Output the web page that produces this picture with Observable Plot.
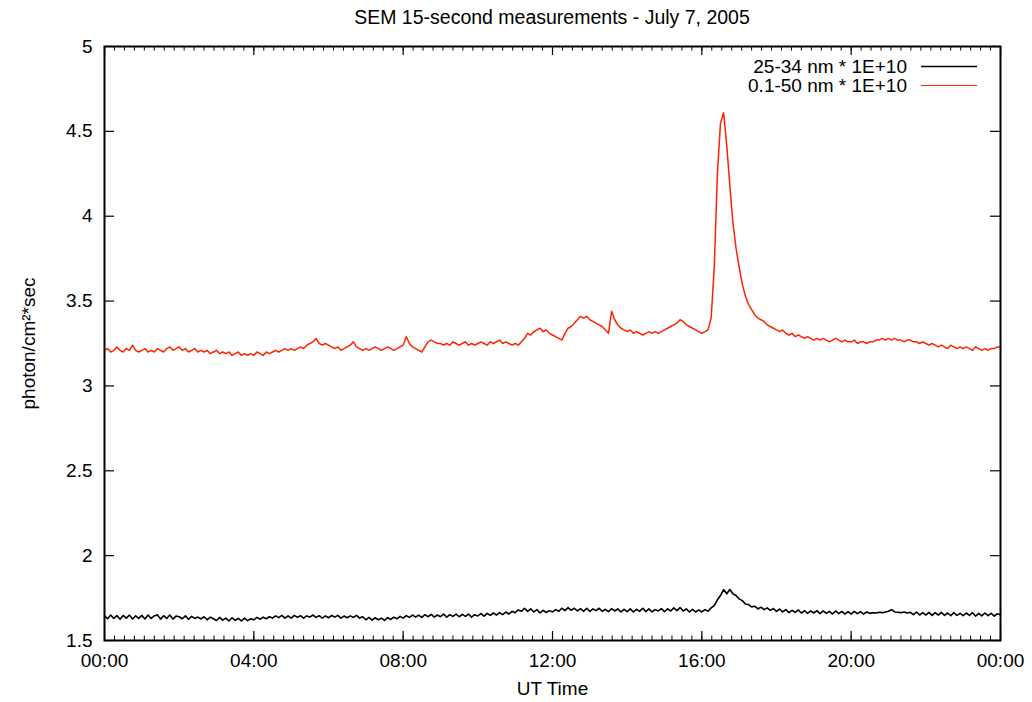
<!DOCTYPE html>
<html><head><meta charset="utf-8">
<script src="https://cdn.jsdelivr.net/npm/d3@7"></script>
<script src="https://cdn.jsdelivr.net/npm/@observablehq/plot@0.6"></script>
<style>
body{margin:0;background:#fff;font-family:"Liberation Sans",Arial,sans-serif;}
#title{height:30px;width:896px;padding-left:104px;text-align:center;font-size:19.5px;line-height:34px;color:#000;}
#chart svg{display:block;}
</style></head><body>
<div id="title"></div>
<div id="chart"></div>
<script>
// ---- data (one value every 5 minutes, 00:00 .. 24:00 UT) ----
const chartTitle = "SEM 15-second measurements - July 7, 2005";
const xLabel = "UT Time";
const yLabel = "photon/cm²*sec";
const dayStartUTC = Date.UTC(2005, 6, 7);
const sampleStepMinutes = 5;
const seriesNames = ["25-34 nm * 1E+10", "0.1-50 nm * 1E+10"];
const seriesColors = ["#000000", "#ff2200"];

const euv2534 = [
1.645,1.628,1.65,1.63,1.647,1.625,1.648,1.632,1.65,1.627,1.645,1.63,
1.648,1.627,1.65,1.63,1.645,1.652,1.626,1.646,1.63,1.65,1.626,1.644,
1.64,1.628,1.645,1.625,1.642,1.63,1.638,1.627,1.64,1.622,1.638,1.628,
1.618,1.636,1.62,1.632,1.615,1.634,1.618,1.63,1.615,1.632,1.617,1.628,
1.622,1.636,1.625,1.638,1.628,1.64,1.632,1.645,1.635,1.648,1.632,1.645,
1.632,1.648,1.636,1.646,1.632,1.645,1.638,1.65,1.636,1.646,1.632,1.645,
1.634,1.647,1.638,1.648,1.632,1.644,1.634,1.645,1.636,1.648,1.632,1.64,
1.622,1.636,1.62,1.634,1.622,1.632,1.618,1.635,1.624,1.638,1.628,1.642,
1.632,1.646,1.636,1.65,1.638,1.65,1.636,1.652,1.64,1.654,1.638,1.65,
1.64,1.655,1.638,1.652,1.642,1.656,1.64,1.654,1.642,1.656,1.638,1.652,
1.645,1.658,1.644,1.66,1.648,1.662,1.65,1.664,1.652,1.668,1.656,1.672,
1.664,1.68,1.672,1.69,1.672,1.686,1.668,1.682,1.662,1.678,1.665,1.676,
1.668,1.682,1.672,1.69,1.676,1.694,1.678,1.69,1.674,1.688,1.672,1.69,
1.672,1.686,1.676,1.69,1.672,1.684,1.67,1.688,1.674,1.686,1.668,1.684,
1.67,1.686,1.668,1.684,1.672,1.69,1.67,1.686,1.668,1.682,1.674,1.688,
1.67,1.686,1.674,1.692,1.676,1.694,1.674,1.686,1.668,1.684,1.668,1.68,
1.668,1.682,1.672,1.692,1.705,1.74,1.765,1.80,1.775,1.80,1.775,1.765,
1.745,1.735,1.715,1.712,1.698,1.702,1.686,1.696,1.682,1.692,1.678,1.688,
1.672,1.685,1.668,1.682,1.664,1.678,1.666,1.68,1.662,1.676,1.66,1.674,
1.662,1.676,1.658,1.674,1.66,1.672,1.656,1.674,1.658,1.672,1.656,1.67,
1.656,1.672,1.658,1.67,1.656,1.668,1.66,1.664,1.662,1.666,1.664,1.668,
1.672,1.682,1.668,1.666,1.664,1.668,1.662,1.666,1.652,1.668,1.65,1.664,
1.65,1.666,1.648,1.664,1.65,1.666,1.648,1.662,1.646,1.664,1.648,1.66,
1.646,1.662,1.648,1.664,1.644,1.66,1.645,1.662,1.646,1.66,1.644,1.658,
1.652];

const euv0150 = [
3.21,3.22,3.20,3.21,3.23,3.21,3.20,3.22,3.21,3.24,3.21,3.20,
3.21,3.22,3.20,3.21,3.20,3.22,3.21,3.20,3.22,3.23,3.21,3.22,
3.23,3.21,3.22,3.20,3.21,3.22,3.20,3.21,3.20,3.21,3.19,3.20,
3.21,3.19,3.20,3.19,3.20,3.18,3.19,3.20,3.18,3.19,3.18,3.19,
3.18,3.20,3.19,3.18,3.20,3.19,3.20,3.21,3.20,3.21,3.22,3.21,
3.22,3.21,3.22,3.23,3.22,3.24,3.25,3.26,3.28,3.25,3.24,3.25,
3.24,3.23,3.22,3.23,3.21,3.22,3.23,3.24,3.26,3.23,3.22,3.21,
3.22,3.21,3.22,3.23,3.22,3.21,3.22,3.23,3.22,3.21,3.22,3.23,
3.24,3.29,3.25,3.23,3.22,3.21,3.20,3.23,3.26,3.27,3.26,3.25,
3.25,3.24,3.25,3.24,3.26,3.25,3.24,3.25,3.26,3.24,3.25,3.24,
3.25,3.26,3.25,3.24,3.26,3.25,3.26,3.27,3.25,3.26,3.25,3.24,
3.25,3.24,3.26,3.28,3.31,3.30,3.32,3.33,3.34,3.32,3.33,3.31,
3.30,3.29,3.28,3.27,3.31,3.34,3.35,3.37,3.39,3.41,3.40,3.41,
3.39,3.38,3.37,3.36,3.35,3.33,3.31,3.44,3.39,3.36,3.34,3.33,
3.32,3.33,3.31,3.32,3.31,3.30,3.31,3.32,3.31,3.32,3.31,3.32,
3.33,3.34,3.35,3.36,3.37,3.39,3.38,3.36,3.35,3.34,3.33,3.32,
3.31,3.32,3.33,3.40,3.70,4.25,4.55,4.61,4.42,4.18,3.96,3.81,
3.70,3.60,3.53,3.48,3.45,3.42,3.40,3.39,3.38,3.36,3.35,3.34,
3.33,3.32,3.33,3.31,3.30,3.31,3.29,3.30,3.29,3.28,3.29,3.28,
3.27,3.28,3.27,3.28,3.27,3.26,3.27,3.28,3.27,3.26,3.27,3.26,
3.26,3.27,3.25,3.26,3.26,3.25,3.26,3.26,3.27,3.27,3.28,3.27,
3.28,3.27,3.28,3.27,3.27,3.26,3.27,3.27,3.26,3.26,3.25,3.26,
3.25,3.24,3.25,3.24,3.23,3.24,3.23,3.22,3.24,3.23,3.22,3.23,
3.22,3.23,3.22,3.21,3.23,3.22,3.21,3.22,3.21,3.22,3.22,3.23,
3.23];

const yTickValues = [1.5, 2, 2.5, 3, 3.5, 4, 4.5, 5];
const xMajorTickHours = [0, 4, 8, 12, 16, 20, 24];
const xMinorTickStepMinutes = 16;

document.getElementById("title").textContent = chartTitle;

// ---- build tables ----
const MIN = 60000;
const toDate = (minutes) => new Date(dayStartUTC + minutes * MIN);
const rows = [];
[euv2534, euv0150].forEach((arr, s) => {
  arr.forEach((v, i) => rows.push({t: toDate(i * sampleStepMinutes), v, s: seriesNames[s]}));
});
const majorTicks = xMajorTickHours.map(h => toDate(h * 60));
const minorTicks = d3.range(0, 24 * 60 + 1, xMinorTickStepMinutes).map(toDate);

const W = 1032, H = 672;
const mL = 104, mR = 32, mT = 16, mB = 62;
const innerW = W - mL - mR, innerH = H - mT - mB;

function legendMark(index, scales, values, dims) {
  const g = d3.create("svg:g").attr("font-size", "19px");
  const right = dims.width - dims.marginRight;
  seriesNames.forEach((name, i) => {
    const y = dims.marginTop + 20.5 + i * 19;
    g.append("text").attr("x", right - 93).attr("y", y).attr("dy", "0.35em")
      .attr("text-anchor", "end").attr("fill", "#000").text(name);
    g.append("line").attr("x1", right - 79).attr("x2", right - 23).attr("y1", y).attr("y2", y)
      .attr("stroke", seriesColors[i]).attr("stroke-width", i === 0 ? 1.3 : 1);
  });
  return g.node();
}

const chart = Plot.plot({
  width: W, height: H,
  marginLeft: mL, marginRight: mR, marginTop: mT, marginBottom: mB,
  style: {fontFamily: "'Liberation Sans', Arial, sans-serif", fontSize: "19px", color: "#000", background: "#fff"},
  x: {type: "utc", domain: [toDate(0), toDate(24 * 60)]},
  y: {domain: [1.5, 5]},
  color: {domain: seriesNames, range: seriesColors},
  marks: [
    Plot.axisX({ticks: majorTicks, tickSize: 0, tickPadding: 13, tickFormat: d3.utcFormat("%H:%M"), label: null}),
    Plot.axisY({ticks: yTickValues, tickSize: 0, tickPadding: 12, tickFormat: d => String(d), label: null}),
    Plot.line(rows.filter(d => d.s === seriesNames[1]), {x: "t", y: "v", stroke: seriesColors[1], strokeWidth: 1.5}),
    Plot.line(rows.filter(d => d.s === seriesNames[0]), {x: "t", y: "v", stroke: seriesColors[0], strokeWidth: 1.6}),
    // inward ticks: bottom & top
    Plot.tickX(minorTicks, {x: d => d, insetTop: innerH - 4.5, stroke: "#000", strokeWidth: 1}),
    Plot.tickX(minorTicks, {x: d => d, insetBottom: innerH - 4.5, stroke: "#000", strokeWidth: 1}),
    Plot.tickX(majorTicks, {x: d => d, insetTop: innerH - 9, stroke: "#000", strokeWidth: 1.2}),
    Plot.tickX(majorTicks, {x: d => d, insetBottom: innerH - 9, stroke: "#000", strokeWidth: 1.2}),
    // inward ticks: left & right
    Plot.tickY(yTickValues, {y: d => d, insetRight: innerW - 10, stroke: "#000", strokeWidth: 1.2}),
    Plot.tickY(yTickValues, {y: d => d, insetLeft: innerW - 10, stroke: "#000", strokeWidth: 1.2}),
    Plot.frame({stroke: "#000", strokeWidth: 2}),
    Plot.text([xLabel], {text: d => d, frameAnchor: "bottom", dy: 54, fill: "#000"}),
    Plot.text([yLabel], {text: d => d, frameAnchor: "left", textAnchor: "middle", rotate: -90, dx: -76, fill: "#000"}),
    legendMark
  ]
});
document.getElementById("chart").appendChild(chart);
</script></body></html>
